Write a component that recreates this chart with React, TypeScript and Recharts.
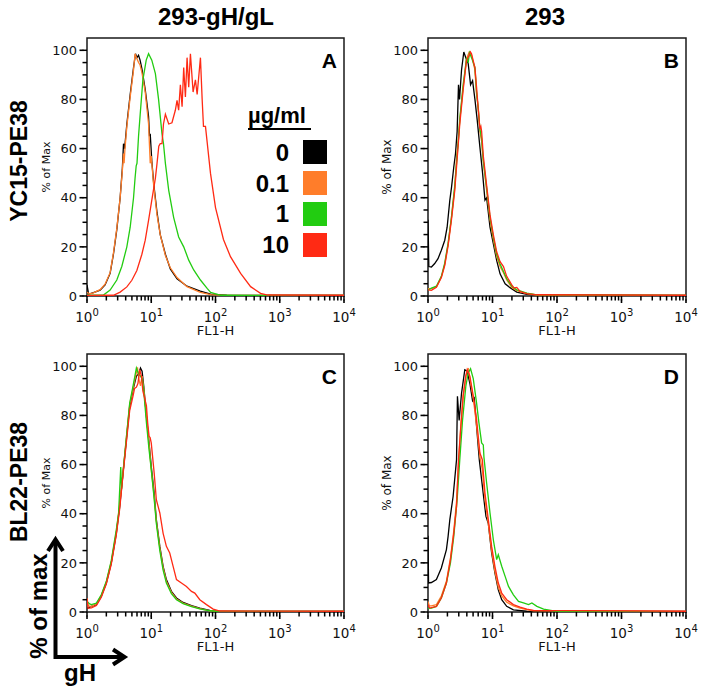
import { LineChart, Line, XAxis, YAxis, ReferenceArea } from "recharts";

type Pt = [number, number];

// legend / series
const DOSES = ["0", "0.1", "1", "10"];
const COLORS = ["#000000", "#FF7D2A", "#22CC11", "#FF2A14"];

const COL_TITLES = ["293-gH/gL", "293"];
const ROW_TITLES = ["YC15-PE38", "BL22-PE38"];

const X_TICKS = [
  1, 2, 3, 4, 5, 6, 7, 8, 9, 10, 20, 30, 40, 50, 60, 70, 80, 90, 100, 200, 300, 400, 500, 600,
  700, 800, 900, 1000, 2000, 3000, 4000, 5000, 6000, 7000, 8000, 9000, 10000,
];
const X_MAJOR = [1, 10, 100, 1000, 10000];
const Y_TICKS = [0, 5, 10, 15, 20, 25, 30, 35, 40, 45, 50, 55, 60, 65, 70, 75, 80, 85, 90, 95, 100];
const Y_MAJOR = [0, 20, 40, 60, 80, 100];

// Panel A: 293-gH/gL, YC15-PE38
const A_BLACK: Pt[] = [
  [1, 4.5], [1.06, 0.8], [1.26, 1.4], [1.6, 2.4], [1.91, 4.5], [2.29, 9.2], [2.58, 17], [2.91, 27],
  [3.28, 40], [3.55, 52], [3.7, 62], [3.85, 60], [4.17, 70], [4.7, 82], [5.3, 93], [5.69, 98.6],
  [6.0, 97], [6.34, 98], [6.7, 96], [7.15, 92.5], [8.06, 84], [9.08, 73], [9.4, 65], [9.64, 66],
  [10.2, 55], [10.9, 46], [12.3, 34], [13.8, 25], [16.6, 17], [19.8, 11], [25.2, 7], [36, 4],
  [58, 2], [84, 0.8], [150, 0.3], [10000, 0.2],
];
const A_ORANGE: Pt[] = [
  [1, 1.5], [1.1, 0.9], [1.26, 1.3], [1.6, 2.6], [1.91, 4.8], [2.29, 9.5], [2.58, 17.5], [2.91, 27.5],
  [3.28, 40], [3.55, 51], [3.7, 58], [3.78, 54], [3.9, 60], [4.17, 69], [4.7, 81], [5.3, 92],
  [5.6, 98.6], [5.9, 97], [6.34, 95], [6.7, 94], [7.15, 91], [8.06, 83], [9.08, 70], [9.64, 54],
  [10.0, 57], [10.9, 45], [12.3, 33], [13.8, 25], [16.6, 16.5], [19.8, 11.5], [25.2, 7.5], [36, 3.8],
  [58, 1.5], [84, 0.6], [150, 0.2], [10000, 0.2],
];
const A_GREEN: Pt[] = [
  [1, 0.3], [1.8, 0.4], [2.29, 2.4], [2.91, 6.5], [3.48, 12], [4.17, 20], [4.7, 28], [5.3, 40],
  [5.6, 48], [5.83, 53], [6.0, 54], [6.34, 65], [6.73, 74], [7.41, 88], [8.35, 96], [9.08, 98.6],
  [10.2, 96], [11.6, 90.5], [13.0, 80], [14.7, 66], [15.5, 62], [16.6, 54], [18.7, 43], [22.3, 32],
  [26.7, 24], [32, 20], [38.3, 14.6], [45.8, 10.6], [58.3, 6.5], [74.1, 3.1], [84, 1.5], [120, 0.3],
  [10000, 0.2],
];
const A_RED: Pt[] = [
  [1, 0.2], [2.58, 0.3], [3.28, 1.6], [4.17, 3.7], [4.99, 6.4], [5.97, 10.4], [7.15, 17], [8.06, 22.7],
  [9.08, 30.8], [10.2, 39], [11.6, 48], [12.3, 54], [13.1, 61], [13.8, 62], [14.7, 62], [15.5, 70],
  [16.6, 74], [18.7, 70], [21.0, 70.5], [23.7, 75.6], [25.2, 79.6], [26.7, 75.6], [28.4, 86],
  [30.2, 77], [32, 93], [34, 81], [36.1, 97], [38.3, 85], [40.7, 98.6], [44.8, 83], [48.7, 88],
  [51.8, 82], [58.3, 97], [62, 80], [65, 69], [69.8, 69], [83.5, 50], [100, 36], [133, 23],
  [171, 16], [246, 9.2], [352, 3.8], [503, 1.1], [646, 0.4], [10000, 0.3],
];

// Panel B: 293, YC15-PE38
const B_BLACK: Pt[] = [
  [1, 31], [1.03, 12], [1.13, 11.8], [1.27, 13.2], [1.43, 15.2], [1.61, 18.6], [1.82, 22.7], [1.98, 28],
  [2.18, 39], [2.31, 44], [2.51, 52.5], [2.67, 58], [2.83, 67], [2.97, 86], [3.08, 80], [3.31, 92],
  [3.59, 99.3], [3.86, 97], [4.2, 94.6], [4.57, 86], [4.91, 87.6], [5.34, 80], [5.8, 71.5],
  [6.38, 60.6], [7.03, 49.8], [7.64, 39], [8.11, 40], [9.15, 28], [10.3, 21.3], [11.6, 14.5],
  [13.1, 9], [15.7, 5], [18.7, 3.4], [23.8, 1.6], [34.1, 0.7], [60, 0.3], [10000, 0.2],
];
const B_ORANGE: Pt[] = [
  [1, 3], [1.13, 3], [1.35, 3.7], [1.61, 7.7], [1.82, 13], [2.05, 21], [2.31, 32], [2.6, 44],
  [2.8, 58], [2.93, 62], [3.11, 71.5], [3.51, 85], [3.96, 96.6], [4.35, 99.3], [4.73, 98],
  [5.34, 92], [5.66, 82], [6.01, 77], [6.38, 67], [6.78, 63], [7.2, 55], [8.11, 43], [9.15, 31],
  [10.3, 23], [11.6, 16], [13.1, 12], [14.8, 9.5], [16.6, 6.5], [19.9, 3.5], [23.8, 2.2],
  [34.1, 1], [48.8, 0.4], [10000, 0.2],
];
const B_GREEN: Pt[] = [
  [1, 2.5], [1.13, 3.2], [1.35, 4], [1.61, 8], [1.82, 13.5], [2.05, 21.5], [2.31, 32], [2.6, 45],
  [2.93, 62], [3.11, 72], [3.51, 86], [3.8, 93], [3.96, 97], [4.2, 95], [4.4, 99], [4.73, 97],
  [5.34, 93], [5.66, 83], [6.01, 76], [6.38, 68], [6.78, 64], [7.2, 55], [8.11, 44], [9.15, 32],
  [10.3, 24], [11.6, 17], [13.1, 13], [14.8, 10], [16.6, 7], [19.9, 4], [23.8, 2.5], [34.1, 1.2],
  [48.8, 0.5], [10000, 0.2],
];
const B_RED: Pt[] = [
  [1, 2.5], [1.13, 2.3], [1.35, 3.5], [1.61, 7.5], [1.82, 12.5], [2.05, 20.5], [2.31, 31], [2.6, 43],
  [2.93, 61], [3.11, 70], [3.51, 84], [3.96, 96], [4.35, 98], [4.55, 99.3], [4.73, 98.6], [5.34, 93],
  [5.66, 85], [6.01, 76], [6.38, 68], [6.6, 69], [6.78, 67], [7.2, 57], [8.11, 45], [9.15, 33],
  [10.3, 25], [11.6, 18], [13.1, 14], [14.8, 12], [16.6, 8], [19.9, 4.5], [21.5, 3.3], [23.8, 3.5],
  [27, 1.8], [34.1, 1], [48.8, 0.5], [10000, 0.3],
];

// Panel C: 293-gH/gL, BL22-PE38
const C_BLACK: Pt[] = [
  [1, 1.5], [1.17, 2.3], [1.4, 3], [1.67, 6.4], [2.0, 11.8], [2.39, 20], [2.86, 32], [3.23, 43],
  [3.64, 56.6], [4.1, 70], [4.62, 83.7], [5.21, 90.5], [5.87, 96], [6.4, 97], [6.8, 99.3], [7.2, 98],
  [7.64, 92], [8.41, 79.6], [9.25, 68.8], [10, 59.3], [11.1, 48.4], [12, 37.6], [13.6, 26.7],
  [15.3, 18.6], [17.2, 13.2], [20.6, 8.4], [24.7, 5.7], [31.3, 3.9], [42.3, 2.6], [57, 1.6],
  [81.6, 0.7], [117, 0.2], [10000, 0.2],
];
const C_ORANGE: Pt[] = [
  [1, 5.5], [1.05, 2.5], [1.17, 2.3], [1.4, 3.3], [1.67, 6.8], [2.0, 12.2], [2.39, 20.5], [2.86, 32.5],
  [3.23, 44], [3.64, 57], [4.1, 71], [4.62, 84.5], [5.21, 91], [5.6, 95], [6.1, 99.6], [6.4, 95],
  [6.8, 92], [7.2, 96], [7.64, 91], [8.0, 86], [8.41, 80], [9.25, 68], [10, 58], [11.1, 47],
  [12, 37], [13.6, 26], [15.3, 18], [17.2, 12.5], [20.6, 8], [24.7, 5.3], [31.3, 3.6], [42.3, 2.4],
  [57, 1.4], [81.6, 0.5], [117, 0.2], [10000, 0.2],
];
const C_GREEN: Pt[] = [
  [1, 4.3], [1.1, 3.3], [1.17, 3], [1.4, 3.6], [1.67, 7], [2.0, 12.5], [2.39, 21], [2.86, 33.5],
  [3.1, 40], [3.35, 59], [3.45, 50], [3.64, 57], [4.1, 71], [4.62, 85], [5.21, 92], [5.87, 99.3],
  [6.3, 97], [6.8, 96], [7.2, 95], [7.64, 90], [8.41, 77], [9.25, 66], [10, 58], [11.1, 46],
  [12, 36], [13.6, 25], [15.3, 17], [17.2, 11.8], [20.6, 7.5], [24.7, 5], [31.3, 3.4], [42.3, 2.2],
  [57, 1.3], [81.6, 0.5], [117, 0.2], [10000, 0.2],
];
const C_RED: Pt[] = [
  [1, 5.5], [1.04, 1.5], [1.17, 1.7], [1.4, 2.6], [1.67, 6], [2.0, 11.5], [2.39, 19.5], [2.86, 31.5],
  [3.23, 42], [3.64, 56], [4.1, 69], [4.62, 82], [5.21, 88], [5.5, 91], [5.87, 91.5], [6.2, 93],
  [6.62, 98.6], [7.03, 96], [7.4, 90], [8.41, 84], [8.8, 77], [9.25, 71.5], [9.6, 71], [10, 68.8],
  [11.1, 56.6], [12, 45.7], [13.6, 40.3], [15.3, 32], [17.2, 26.7], [19.4, 24], [21.9, 18.6],
  [24.7, 13.2], [29.5, 11.8], [35.3, 10.4], [42.3, 8.4], [47.6, 7.7], [57, 5], [72.4, 3], [92, 1.2],
  [117, 0.4], [10000, 0.3],
];

// Panel D: 293, BL22-PE38
const D_BLACK: Pt[] = [
  [1, 31], [1.02, 11.8], [1.13, 12], [1.35, 13.2], [1.61, 17.9], [1.93, 25.4], [2.05, 30.8],
  [2.18, 37.6], [2.45, 47], [2.77, 62], [2.86, 87.8], [3.04, 78], [3.31, 89], [3.72, 98.6], [4.05, 98],
  [4.46, 93], [4.91, 86], [5.21, 87], [5.66, 75.6], [6.24, 62], [6.78, 53.9], [7.37, 45.7],
  [7.92, 38.9], [8.61, 36], [9.7, 24], [10.9, 15.9], [12.3, 9], [13.9, 5], [16.6, 2.3], [21.1, 0.9],
  [34, 0.3], [10000, 0.2],
];
const D_ORANGE: Pt[] = [
  [1, 4.3], [1.05, 2.5], [1.13, 2.5], [1.35, 3], [1.61, 6.5], [1.93, 12.5], [2.23, 22], [2.51, 33],
  [2.77, 45], [2.97, 60], [3.23, 76], [3.51, 88], [3.86, 96], [4.2, 99.3], [4.46, 95], [5.03, 87],
  [5.66, 76], [6.38, 63], [6.95, 58], [7.64, 46], [8.61, 36], [9.7, 25], [10.9, 16.5], [12.3, 10],
  [13.9, 6.5], [16.6, 4], [21.1, 2.5], [26.8, 1.6], [34, 1], [43.3, 0.5], [10000, 0.2],
];
const D_GREEN: Pt[] = [
  [1, 1.5], [1.13, 1.6], [1.35, 2.3], [1.61, 5.7], [1.93, 11.8], [2.23, 20], [2.51, 30.8], [2.83, 45.7],
  [3.11, 62], [3.43, 78], [3.86, 91.9], [4.2, 97.3], [4.57, 99], [5.03, 95], [5.66, 85.1], [6.16, 77],
  [6.78, 68.8], [7.2, 68], [7.37, 63], [8.11, 52.5], [9.15, 40.3], [10.3, 29.4], [11.6, 21.3],
  [12.3, 23.3], [13.9, 18.6], [15.7, 14.5], [17.7, 10.4], [21.1, 7], [25.3, 4.3], [30.2, 3.7],
  [36.2, 3], [40.8, 3.7], [48.8, 2.3], [62, 1.2], [88.7, 0.5], [113, 0.1], [10000, 0.1],
];
const D_RED: Pt[] = [
  [1, 3], [1.06, 1.6], [1.35, 2.3], [1.61, 5.7], [1.93, 11.8], [2.23, 21.3], [2.51, 32], [2.77, 43],
  [2.97, 62], [3.23, 75.6], [3.51, 88], [3.86, 96], [4.05, 98.6], [4.46, 96], [5.03, 88], [5.66, 78.4],
  [6.38, 64.7], [6.95, 62], [7.64, 48.4], [8.61, 37.6], [9.7, 26.7], [10.9, 18.6], [12.3, 11.8],
  [13.9, 7.7], [16.6, 5], [21.1, 3], [26.8, 2], [34, 1.2], [43.3, 0.7], [10000, 0.3],
];

const PANELS = [
  { letter: "A", left: 87, top: 38, width: 257, labelSize: 11, series: [A_BLACK, A_ORANGE, A_GREEN, A_RED] },
  { letter: "B", left: 428, top: 38, width: 258, labelSize: 12, series: [B_BLACK, B_ORANGE, B_GREEN, B_RED] },
  { letter: "C", left: 87, top: 354, width: 257, labelSize: 11, series: [C_BLACK, C_ORANGE, C_GREEN, C_RED] },
  { letter: "D", left: 428, top: 354, width: 258, labelSize: 12, series: [D_BLACK, D_ORANGE, D_GREEN, D_RED] },
];

const PLOT_H = 258;
const TICK = 4.5; // minor tick length, drawn by the axis itself
const AXIS = "#1a1a1a";
const SMALL_FONT = "'DejaVu Sans', Verdana, sans-serif";
const BOLD_FONT = "'Liberation Sans', Arial, Helvetica, sans-serif";

// x, y arrive at the end of the axis' own tick line (TICK px outside the frame)
function XTick({ x, y, payload }: any) {
  const v = payload.value;
  if (!X_MAJOR.includes(v)) return <g />;
  const exp = Math.round(Math.log10(v));
  return (
    <g>
      <line x1={x} x2={x} y1={y - 1} y2={y + 2.5} stroke="#000" strokeWidth={1.6} />
      <text x={x} y={y + 25.5 - TICK} textAnchor="middle" fontFamily={SMALL_FONT} fontSize={13.5} fill="#111">
        10
        <tspan dy={-6} fontSize={10}>
          {exp}
        </tspan>
      </text>
    </g>
  );
}

function YTick({ x, y, payload }: any) {
  const v = payload.value;
  if (!Y_MAJOR.includes(v)) return <g />;
  return (
    <g>
      <line x1={x + 1} x2={x - 3} y1={y} y2={y} stroke="#000" strokeWidth={1.6} />
      <text x={x - 10 + TICK} y={y} dy="0.36em" textAnchor="end" fontFamily={SMALL_FONT} fontSize={13} fill="#111">
        {v}
      </text>
    </g>
  );
}

function Panel({ p }: { p: (typeof PANELS)[number] }) {
  return (
    <div style={{ position: "absolute", left: p.left - 87, top: p.top - 38 }}>
      <LineChart
        width={p.width + 87 + 24}
        height={PLOT_H + 38 + 52}
        margin={{ top: 38, left: 47, right: 24, bottom: 12 }}
      >
        <XAxis
          dataKey="x"
          type="number"
          scale="log"
          domain={[1, 10000]}
          ticks={X_TICKS}
          interval={0}
          height={40}
          tickSize={TICK}
          tickMargin={0}
          stroke="#000"
          tickLine={{ stroke: "#000", strokeWidth: 1.5 }}
          axisLine={false}
          tick={<XTick />}
          allowDataOverflow
        />
        <YAxis
          type="number"
          domain={[0, 105]}
          ticks={Y_TICKS}
          interval={0}
          width={40}
          tickSize={TICK}
          tickMargin={0}
          stroke="#000"
          tickLine={{ stroke: "#000", strokeWidth: 1.5 }}
          axisLine={false}
          tick={<YTick />}
          allowDataOverflow
        />
        {p.series.map((s, i) => (
          <Line
            key={i}
            data={s.map(([x, y]) => ({ x, y }))}
            dataKey="y"
            type="linear"
            stroke={COLORS[i]}
            strokeWidth={1.3}
            dot={false}
            isAnimationActive={false}
          />
        ))}
        <ReferenceArea
          x1={1}
          x2={10000}
          y1={0}
          y2={105}
          fill="none"
          fillOpacity={0}
          stroke={AXIS}
          strokeWidth={1.5}
          ifOverflow="visible"
        />
      </LineChart>
    </div>
  );
}

export default function App() {
  return (
    <div
      style={{
        position: "absolute",
        left: 0,
        top: 0,
        width: 704,
        height: 692,
        background: "#fff",
        overflow: "hidden",
      }}
    >
      {PANELS.map((p) => (
        <Panel key={p.letter} p={p} />
      ))}
      <svg
        width={704}
        height={692}
        style={{ position: "absolute", left: 0, top: 0, pointerEvents: "none" }}
      >
        {/* column titles */}
        <text x={216} y={25} textAnchor="middle" fontFamily={BOLD_FONT} fontWeight="bold" fontSize={24}>
          {COL_TITLES[0]}
        </text>
        <text x={545} y={25} textAnchor="middle" fontFamily={BOLD_FONT} fontWeight="bold" fontSize={24}>
          {COL_TITLES[1]}
        </text>
        {/* row titles */}
        <text transform="translate(27,161) rotate(-90)" textAnchor="middle" fontFamily={BOLD_FONT} fontWeight="bold" fontSize={23}>
          {ROW_TITLES[0]}
        </text>
        <text transform="translate(27,482) rotate(-90)" textAnchor="middle" fontFamily={BOLD_FONT} fontWeight="bold" fontSize={23}>
          {ROW_TITLES[1]}
        </text>

        {PANELS.map((p) => (
          <g key={p.letter}>
            <text
              x={p.left + p.width - 7}
              y={p.top + 30}
              textAnchor="end"
              fontFamily={BOLD_FONT}
              fontWeight="bold"
              fontSize={21}
            >
              {p.letter}
            </text>
            <text
              x={p.left + p.width / 2}
              y={p.top + PLOT_H + 39}
              textAnchor="middle"
              fontFamily={SMALL_FONT}
              fontSize={13}
              fill="#111"
            >
              FL1-H
            </text>
            <text
              transform={`translate(${p.left - 37},${p.top + PLOT_H / 2}) rotate(-90)`}
              textAnchor="middle"
              fontFamily={SMALL_FONT}
              fontSize={p.labelSize}
              fill="#111"
            >
              % of Max
            </text>
          </g>
        ))}

        {/* legend in panel A */}
        <text x={248} y={123} fontFamily={BOLD_FONT} fontWeight="bold" fontSize={22}>
          µg/ml
        </text>
        <line x1={248} x2={311} y1={129} y2={129} stroke="#000" strokeWidth={2} />
        {DOSES.map((d, i) => (
          <g key={d}>
            <text
              x={289}
              y={161 + i * 30.5}
              textAnchor="end"
              fontFamily={BOLD_FONT}
              fontWeight="bold"
              fontSize={24}
            >
              {d}
            </text>
            <rect x={303} y={140 + i * 31} width={24} height={24} fill={COLORS[i]} />
          </g>
        ))}

        {/* axis key arrows */}
        <polyline
          points="55.5,541 55.5,657 123,657"
          fill="none"
          stroke="#000"
          strokeWidth={4}
          strokeLinejoin="miter"
        />
        <polyline points="48,551 55.5,539.5 63,551" fill="none" stroke="#000" strokeWidth={4} />
        <polyline points="113,649.5 124.5,657 113,664.5" fill="none" stroke="#000" strokeWidth={4} />
        <text transform="translate(47,606) rotate(-90)" textAnchor="middle" fontFamily={BOLD_FONT} fontWeight="bold" fontSize={24}>
          % of max
        </text>
        <text x={80} y={681} textAnchor="middle" fontFamily={BOLD_FONT} fontWeight="bold" fontSize={24}>
          gH
        </text>
      </svg>
    </div>
  );
}
